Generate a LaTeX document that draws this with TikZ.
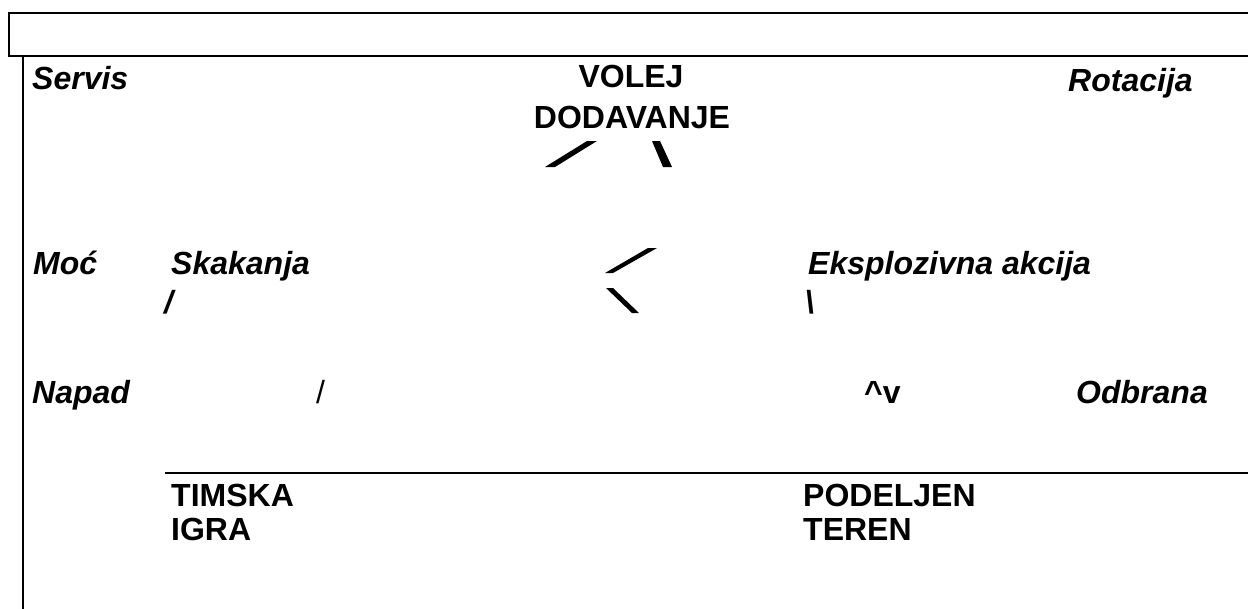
\documentclass[tikz,border=0pt]{standalone}
\usepackage{fontspec}
\setmainfont{Liberation Sans}
\begin{document}
\begin{tikzpicture}[x=1pt,y=-1pt,
  rule/.style={line width=2.2pt,line cap=butt},
  lbl/.style={anchor=base west,inner sep=0pt,font=\fontsize{32}{37}\selectfont\bfseries},
  ilbl/.style={lbl,font=\fontsize{32}{37}\selectfont\bfseries\itshape},
  stroke/.style={fill=black,draw=none}]
  \useasboundingbox (0,0) rectangle (1248,608);
  % frame: title band and left rule
  \draw[rule] (1252,13) -- (9,13) -- (9,56) -- (1252,56);
  \draw[rule] (23,56) -- (23,610);
  \coordinate (hl) at (165,473);
  \draw[rule] (hl) -- (1252,473);

  % first row
  \node[ilbl] (servis) at (32,89) {Servis};
  \node[lbl,anchor=base] (volej) at (631,87) {VOLEJ};
  \node[lbl,anchor=base] (dodav) at (632,128) {DODAVANJE};
  \node[ilbl] (rot) at (1068,91) {Rotacija};

  % broken strokes under the centre heading
  \fill[stroke] (587,141) -- (597,141) -- (555,167) -- (545,167) -- cycle;
  \fill[stroke] (652,141) -- (660,141) -- (672,167) -- (663,167) -- cycle;

  % second row
  \node[ilbl] (moc) at (33,274) {Moć};
  \node[ilbl] (skak) at (171,274) {Skakanja};
  \node[ilbl] (sl1) at (164,313) {/};
  \fill[stroke] (648,248) -- (657,248) -- (613,273) -- (605,273) -- cycle;
  \fill[stroke] (606,288) -- (613,288) -- (639,313) -- (632,313) -- cycle;
  \node[ilbl] (eks) at (808,274) {Eksplozivna akcija};
  \node[ilbl] (sl2) at (805,313) {\symbol{92}};

  % third row
  \node[ilbl] (napad) at (32,403) {Napad};
  \node[anchor=base west,inner sep=0pt,font=\fontsize{32}{37}\selectfont] (sl3) at (316,403) {/};
  \node[lbl] (av) at (864,403) {\symbol{94}v};
  \node[ilbl] (odb) at (1076,403) {Odbrana};

  % bottom labels
  \node[lbl] (tim) at (171,506) {TIMSKA};
  \node[lbl] (igra) at (171,540) {IGRA};
  \node[lbl] (pod) at (803,506) {PODELJEN};
  \node[lbl] (ter) at (803,540) {TEREN};
\end{tikzpicture}
\end{document}
